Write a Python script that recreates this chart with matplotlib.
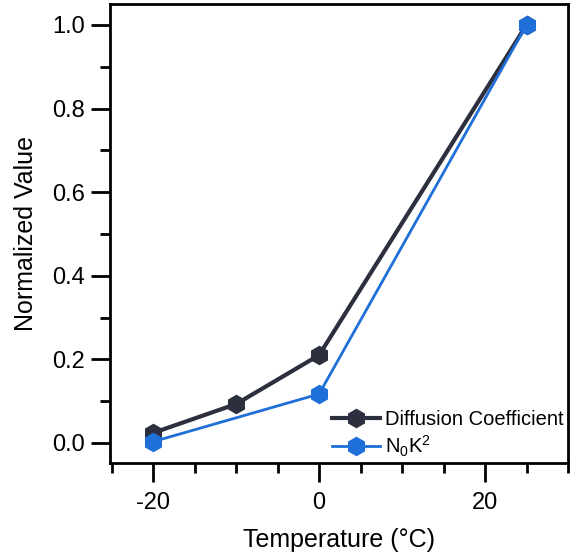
import matplotlib.pyplot as plt
from matplotlib.ticker import MultipleLocator

plt.rcParams['font.family'] = ['Liberation Sans', 'DejaVu Sans']
plt.rcParams['axes.unicode_minus'] = False
plt.rcParams['mathtext.fontset'] = 'custom'
plt.rcParams['mathtext.rm'] = 'Liberation Sans'

temp_diff = [-20, -10, 0, 25]
diff_coef = [0.024, 0.093, 0.21, 1.0]
temp_nk = [-20, 0, 25]
n0k2 = [0.003, 0.117, 1.0]

fig = plt.figure(figsize=(5.72, 5.56), dpi=100)
ax = fig.add_axes([0.1923, 0.1673, 0.8007, 0.8255])

ax.plot(temp_diff, diff_coef, '-h', color='#2c2f3d', lw=3, ms=13,
        label='Diffusion Coefficient')
ax.plot(temp_nk, n0k2, '-h', color='#1f6fd8', lw=2, ms=13,
        label='N$_\\mathrm{0}$K$^\\mathrm{2}$')

ax.set_xlim(-25.2, 30)
ax.set_ylim(-0.048, 1.05)
ax.xaxis.set_major_locator(MultipleLocator(20))
ax.xaxis.set_minor_locator(MultipleLocator(5))
ax.yaxis.set_major_locator(MultipleLocator(0.2))
ax.yaxis.set_minor_locator(MultipleLocator(0.1))
ax.yaxis.set_major_formatter(plt.FormatStrFormatter('%.1f'))

for s in ax.spines.values():
    s.set_linewidth(2)
ax.tick_params(which='major', length=14, width=2, labelsize=17, pad=4)
ax.tick_params(axis='x', which='major', pad=7)
ax.tick_params(which='minor', length=7, width=2)

ax.set_xlabel('Temperature (°C)', fontsize=18, labelpad=10)
ax.set_ylabel('Normalized Value', fontsize=18, labelpad=10)

ax.legend(loc='lower right', frameon=False, fontsize=14.5, handlelength=2.4,
          handletextpad=0.25, borderaxespad=0.0, borderpad=0.2,
          labelspacing=0.25)

fig.savefig('out.png', dpi=100)
